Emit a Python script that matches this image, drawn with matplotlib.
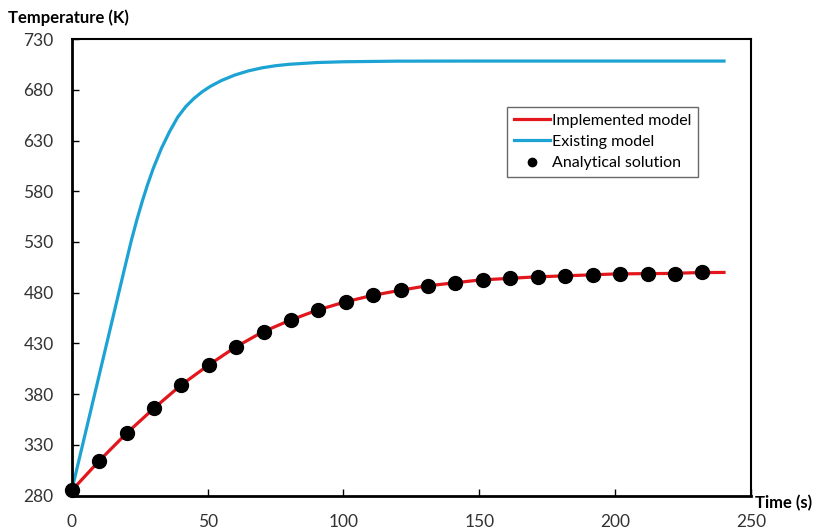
import matplotlib.pyplot as plt

plt.rcParams['font.family'] = ['Lato', 'DejaVu Sans']

# Implemented model (red line)
t_impl = [0, 10, 20, 30, 40, 50, 60, 70, 80, 90, 100, 110, 120, 130, 140,
          150, 160, 170, 180, 190, 200, 210, 220, 230, 240]
T_impl = [285, 314, 341, 365.5, 388.5, 408, 426, 441, 452.5, 462.5, 470.5,
          477, 482, 486.5, 489.5, 492.5, 494, 495.5, 496.5, 497.5, 498.5,
          498.8, 499, 499.8, 500]

# Existing model (blue line)
t_exist = [0, 4, 8, 12, 16, 20, 22, 24, 26, 28, 30, 33, 36, 39, 42, 45, 48,
           51, 55, 60, 65, 70, 75, 80, 90, 100, 120, 150, 200, 240]
T_exist = [285, 330, 375, 420, 465, 510, 532, 552, 570.4, 587.2, 602.4,
           622.2, 638.7, 653, 663.5, 671.5, 678, 683.3, 689, 694.5, 698.6,
           701.6, 703.7, 705.1, 706.8, 707.6, 708.2, 708.3, 708.3, 708.3]

# Analytical solution (dots)
t_anal = [0, 10.1, 20.2, 30.3, 40.3, 50.4, 60.5, 70.6, 80.6, 90.7, 100.8,
          110.9, 121, 131, 141.2, 151.3, 161.4, 171.5, 181.6, 191.7, 201.8,
          211.9, 222, 232]
T_anal = [286, 314.5, 341.6, 366.3, 389.3, 408.3, 426.5, 441.6, 453.1, 463,
          471, 477.4, 482.4, 487, 489.7, 493, 494.2, 495.6, 496.9, 497.9,
          498.8, 498.8, 498.8, 500]

x_ticks = [0, 50, 100, 150, 200, 250]
y_ticks = [280, 330, 380, 430, 480, 530, 580, 630, 680, 730]

fig = plt.figure(figsize=(8.25, 5.31), dpi=100)
ax = fig.add_axes([0.0869, 0.0665, 0.8236, 0.86])

ax.plot(t_impl, T_impl, color='#e3161c', lw=2.3, label='Implemented model', zorder=2)
ax.plot(t_exist, T_exist, color='#1ca3d3', lw=2.3, label='Existing model', zorder=2)
ax.plot(t_anal, T_anal, 'o', color='black', ms=10, label='Analytical solution',
        zorder=3, clip_on=False)

ax.set_xlim(0, 250)
ax.set_ylim(280, 730)
ax.set_xticks(x_ticks)
ax.set_yticks(y_ticks)
ax.tick_params(direction='in', length=5, width=1, labelsize=12.5, pad=13,
               colors='black', labelcolor='#333333')
for s in ax.spines.values():
    s.set_linewidth(1.5)
    s.set_color('black')
ax.spines['left'].set_linewidth(2)
ax.spines['bottom'].set_linewidth(2)

fig.text(8 / 825, 1 - 18 / 531, 'Temperature (K)', fontsize=12, fontweight='bold',
         ha='left', va='center')
fig.text(755 / 825, 1 - 503 / 531, 'Time (s)', fontsize=12, fontweight='bold',
         ha='left', va='center')

leg = ax.legend(loc='upper left', bbox_to_anchor=(0.641, 0.851), borderaxespad=0,
                fontsize=11.5, frameon=True, fancybox=False, handlelength=2.3,
                handletextpad=0.1, labelspacing=0.45, borderpad=0.4,
                markerscale=0.6)
leg.get_frame().set_edgecolor('#444444')
leg.get_frame().set_linewidth(1)

fig.savefig('out.png', dpi=100)
